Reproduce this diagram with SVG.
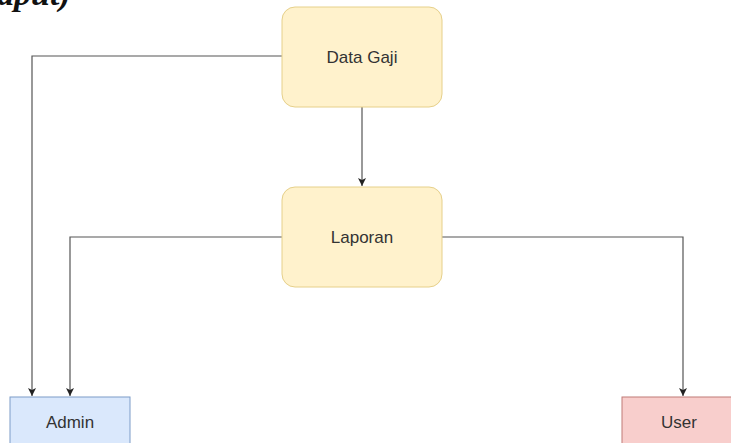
<svg xmlns="http://www.w3.org/2000/svg" width="731" height="443" viewBox="0 0 731 443">
  <style>
    .lbl { font-family: "Liberation Sans", Arial, Helvetica, sans-serif; font-size: 17px; fill: #333333; text-anchor: middle; dominant-baseline: central; }
    .proc { fill: #fff2cc; stroke: #e6d08a; stroke-width: 1; }
    .admin { fill: #dae8fc; stroke: #7d9cc8; stroke-width: 1; }
    .user { fill: #f8cecc; stroke: #c07a77; stroke-width: 1; }
    .edge { fill: none; stroke: #555555; stroke-width: 1.2; }
    .cap { font-family: "Liberation Serif", "Times New Roman", serif; font-size: 34px; font-style: italic; font-weight: bold; fill: #111111; }
  </style>
  <defs>
    <marker id="arrow" viewBox="0 0 10 10" refX="10" refY="5" markerWidth="8" markerHeight="8" markerUnits="userSpaceOnUse" orient="auto">
      <path d="M0,0 L10,5 L0,10 L2.5,5 Z" fill="#222222"/>
    </marker>
  </defs>
  <rect width="731" height="443" fill="#ffffff"/>

  <!-- caption tail at the top edge -->
  <text class="cap" x="-3" y="5">aput)</text>

  <g id="connectors">
    <!-- Data Gaji -> Laporan -->
    <path class="edge" d="M362,107 L362,186" marker-end="url(#arrow)"/>
    <!-- Data Gaji -> Admin -->
    <path class="edge" d="M282,56 L32,56 L32,396" marker-end="url(#arrow)"/>
    <!-- Laporan -> Admin -->
    <path class="edge" d="M282,237 L70,237 L70,396" marker-end="url(#arrow)"/>
    <!-- Laporan -> User -->
    <path class="edge" d="M442,237 L683,237 L683,396" marker-end="url(#arrow)"/>
  </g>

  <g id="node-data-gaji">
    <rect class="proc" x="282" y="7" width="160" height="100" rx="13" ry="13"/>
    <text class="lbl" x="362" y="57">Data Gaji</text>
  </g>

  <g id="node-laporan">
    <rect class="proc" x="282" y="187" width="160" height="100" rx="13" ry="13"/>
    <text class="lbl" x="362" y="237">Laporan</text>
  </g>

  <g id="node-admin">
    <rect class="admin" x="10" y="397" width="120" height="60"/>
    <text class="lbl" x="70" y="422">Admin</text>
  </g>

  <g id="node-user">
    <rect class="user" x="622" y="397" width="122" height="60"/>
    <text class="lbl" x="679" y="422">User</text>
  </g>
</svg>
